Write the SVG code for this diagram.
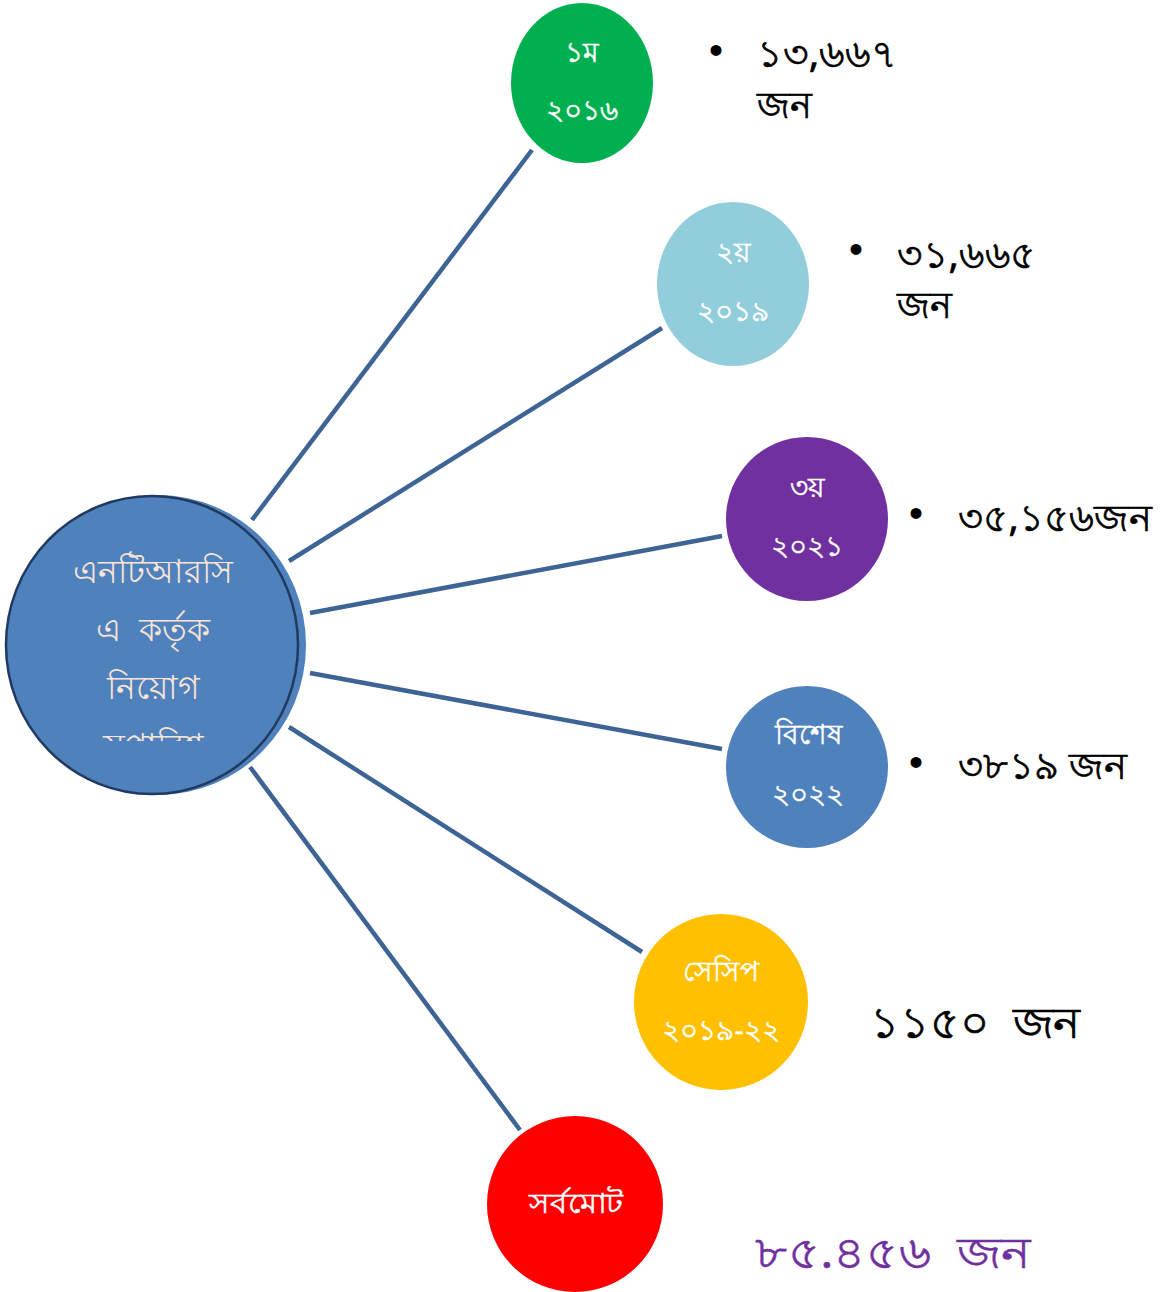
<svg xmlns="http://www.w3.org/2000/svg" width="1162" height="1292" viewBox="0 0 1162 1292">
<style>
.c{font-family:"Noto Sans","DejaVu Sans",sans-serif;text-anchor:middle;fill:#ffffff;stroke:#ffffff;stroke-width:0.5;font-size:28px}
.ct{font-family:"Noto Sans","DejaVu Sans",sans-serif;text-anchor:middle;fill:#FBE5D6;font-size:33px}
.v{font-family:"Noto Sans","DejaVu Sans",sans-serif;fill:#000000;stroke:#000000;stroke-width:0.6;font-size:38px}
.b{font-family:"Liberation Sans",sans-serif;fill:#000000;font-size:40px;text-anchor:middle}
.conn line{stroke:#3E6496;stroke-width:4.5;stroke-linecap:butt}
</style>
<defs>
<clipPath id="clipc"><rect x="0" y="500" width="310" height="241"/></clipPath>
</defs>
<rect width="1162" height="1292" fill="#ffffff"/>
<g id="connectors" class="conn">
<line x1="252" y1="520" x2="532" y2="150"/>
<line x1="289" y1="561" x2="662" y2="328"/>
<line x1="310" y1="613" x2="722" y2="536"/>
<line x1="310" y1="673" x2="722" y2="749"/>
<line x1="289" y1="727" x2="642" y2="952"/>
<line x1="250" y1="767" x2="520" y2="1130"/>
</g>
<g id="center">
<ellipse cx="158" cy="645" rx="148" ry="150" fill="#4F81BD"/>
<ellipse cx="152" cy="645" rx="146" ry="149" fill="#4F81BD" stroke="#1F3A60" stroke-width="2.5"/>
<g clip-path="url(#clipc)">
<text class="ct" x="153" y="583">এনটিআরসি</text>
<text class="ct" x="153" y="641" xml:space="preserve">এ  কর্তৃক</text>
<text class="ct" x="153" y="699">নিয়োগ</text>
<text class="ct" x="153" y="757">সুপারিশ</text>
</g>
</g>
<g id="n1">
<ellipse cx="582" cy="83" rx="71" ry="80" fill="#00B050"/>
<text class="c" x="582" y="62">১ম</text>
<text class="c" x="582" y="120">২০১৬</text>
</g>
<g id="n2">
<ellipse cx="733" cy="284" rx="76" ry="82" fill="#92CDDC"/>
<text class="c" x="733" y="262">২য়</text>
<text class="c" x="733" y="321">২০১৯</text>
</g>
<g id="n3">
<ellipse cx="807" cy="519" rx="81" ry="82" fill="#7030A0"/>
<text class="c" x="807" y="497">৩য়</text>
<text class="c" x="807" y="556">২০২১</text>
</g>
<g id="n4">
<ellipse cx="807" cy="767" rx="81" ry="81" fill="#4F81BD"/>
<text class="c" x="808" y="744">বিশেষ</text>
<text class="c" x="808" y="804">২০২২</text>
</g>
<g id="n5">
<ellipse cx="721" cy="1002" rx="87" ry="88" fill="#FFC000"/>
<text class="c" x="721" y="981">সেসিপ</text>
<text class="c" x="721" y="1040">২০১৯-২২</text>
</g>
<g id="n6">
<ellipse cx="575" cy="1204" rx="88" ry="88" fill="#FF0000"/>
<text class="c" x="576" y="1213" textLength="94" lengthAdjust="spacingAndGlyphs">সর্বমোট</text>
</g>
<g id="values">
<text class="b" x="716" y="64">•</text>
<text class="v" x="757" y="67" textLength="140" lengthAdjust="spacingAndGlyphs">১৩,৬৬৭</text>
<text class="v" x="757" y="118" textLength="55" lengthAdjust="spacingAndGlyphs">জন</text>
<text class="b" x="856" y="263">•</text>
<text class="v" x="897" y="268" textLength="139" lengthAdjust="spacingAndGlyphs">৩১,৬৬৫</text>
<text class="v" x="897" y="318" textLength="55" lengthAdjust="spacingAndGlyphs">জন</text>
<text class="b" x="916" y="527">•</text>
<text class="v" x="958" y="531" textLength="194" lengthAdjust="spacingAndGlyphs">৩৫,১৫৬জন</text>
<text class="b" x="916" y="776">•</text>
<text class="v" x="958" y="779" textLength="169" lengthAdjust="spacingAndGlyphs">৩৮১৯ জন</text>
<text class="v" x="870" y="1038" style="font-size:44px" textLength="210" lengthAdjust="spacingAndGlyphs" xml:space="preserve">১১৫০  জন</text>
<text class="v" x="755" y="1268" style="font-size:44px;fill:#7030A0;stroke:#7030A0;stroke-width:0.4" textLength="275" lengthAdjust="spacingAndGlyphs" xml:space="preserve">৮৫.৪৫৬  জন</text>
</g>
</svg>
